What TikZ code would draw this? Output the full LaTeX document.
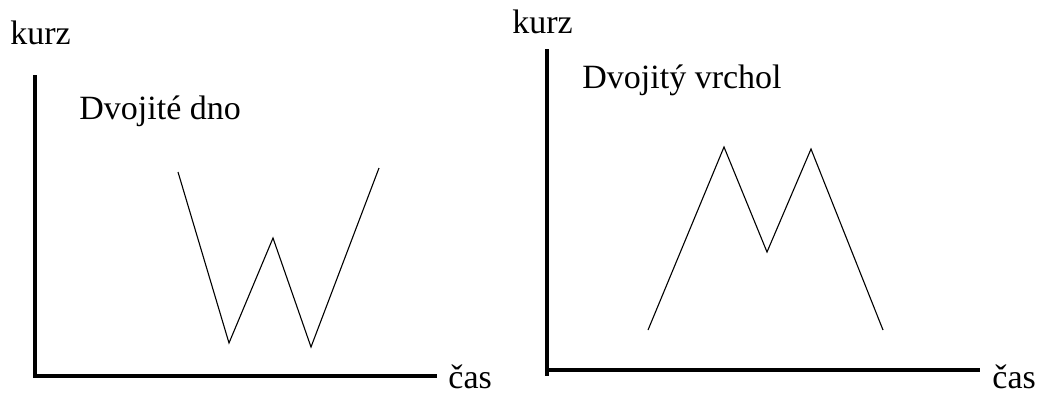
\documentclass[tikz,border=0pt]{standalone}
\usepackage{fontspec}
\setmainfont{Liberation Serif}
\begin{document}
\begin{tikzpicture}[x=0.5pt,y=-0.5pt,
  axis/.style={line width=1.8pt},
  curve/.style={line width=0.55pt},
  lbl/.style={inner sep=0pt,anchor=base west,font=\fontsize{17}{20}\selectfont}]
\useasboundingbox (0,0) rectangle (1048,392);
% left chart
\coordinate (ly) at (35,75);
\coordinate (lo) at (35,378);
\coordinate (lh) at (35,376);
\coordinate (lx) at (437,376);
\draw[axis] (ly) -- (lo);
\draw[axis] (lh) -- (lx);
\node[lbl] (lkurz) at (10,44) {kurz};
\node[lbl] (lcas) at (448,388) {čas};
\node[lbl] (ltitle) at (79,119) {Dvojité dno};
\coordinate (w1) at (178,172);
\coordinate (w2) at (229,343);
\coordinate (w3) at (273,238);
\coordinate (w4) at (311,347);
\coordinate (w5) at (379,168);
\draw[curve] (w1) -- (w2) -- (w3) -- (w4) -- (w5);
% right chart
\coordinate (ry) at (547,49);
\coordinate (ro) at (547,376);
\coordinate (rh) at (547,370);
\coordinate (rx) at (980,370);
\draw[axis] (ry) -- (ro);
\draw[axis] (rh) -- (rx);
\node[lbl] (rkurz) at (512,33) {kurz};
\node[lbl] (rcas) at (992,388) {čas};
\node[lbl] (rtitle) at (582,88) {Dvojitý vrchol};
\coordinate (m1) at (648,330);
\coordinate (m2) at (724,147);
\coordinate (m3) at (767,252);
\coordinate (m4) at (811,149);
\coordinate (m5) at (883,330);
\draw[curve] (m1) -- (m2) -- (m3) -- (m4) -- (m5);
\end{tikzpicture}
\end{document}
